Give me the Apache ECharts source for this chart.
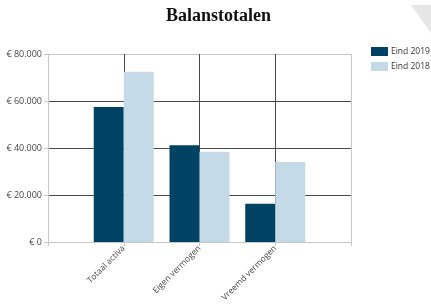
<!DOCTYPE html>
<html>
<head>
<meta charset="utf-8">
<script src="https://cdn.jsdelivr.net/npm/echarts@6/dist/echarts.min.js"></script>
<style>
  html, body { margin: 0; padding: 0; background: #fff; }
  #chart { width: 431px; height: 305px; }
</style>
</head>
<body>
<div id="chart"></div>
<script>
// empty slots at both ends so the bar pairs sit on the inner grid lines
const categories = ["", "Totaal activa", "Eigen vermogen", "Vreemd vermogen", ""];
const eind2019 = ["-", 57500, 41200, 16300, "-"];
const eind2018 = ["-", 72400, 38400, 34000, "-"];
const yTicks = [0, 20000, 40000, 60000, 80000];

const borderGray = "#c8c8c8";
const gridDark = "#4a4a4a";
const lineColors = [borderGray, gridDark, gridDark, gridDark, borderGray];

function euro(v) {
  if (v === 0) return "€ 0";
  return "€ " + String(v).replace(/\B(?=(\d{3})+(?!\d))/g, ".");
}

const myChart = echarts.init(document.getElementById("chart"));
const option = {
  animation: false,
  title: {
    text: "Balanstotalen",
    left: 166,
    top: 7,
    padding: 0,
    textStyle: {
      fontFamily: "Liberation Serif",
      fontWeight: "bold",
      fontSize: 18,
      color: "#111",
    },
  },
  legend: {
    orient: "vertical",
    left: 371,
    top: 47,
    padding: 0,
    icon: "rect",
    itemWidth: 17,
    itemHeight: 9,
    itemGap: 6,
    textStyle: {
      fontFamily: "Open Sans",
      fontSize: 8.5,
      color: "#333",
      padding: [0, 0, 0, -2],
      overflow: "none",
    },
    data: ["Eind 2019", "Eind 2018"],
  },
  grid: {
    left: 48,
    top: 54,
    width: 303,
    height: 188,
    show: false,
  },
  xAxis: {
    type: "category",
    data: categories,
    boundaryGap: false,
    axisLine: { lineStyle: { color: borderGray } },
    axisTick: { show: true, length: 4, lineStyle: { color: borderGray } },
    axisLabel: {
      rotate: 45,
      fontFamily: "Open Sans",
      fontSize: 8.5,
      color: "#444",
      margin: 5,
      interval: 0,
    },
    splitLine: { show: true, lineStyle: { color: lineColors, width: 1 } },
  },
  yAxis: {
    type: "value",
    min: yTicks[0],
    max: yTicks[yTicks.length - 1],
    interval: 20000,
    axisLine: { show: true, lineStyle: { color: borderGray } },
    axisTick: { show: true, length: 4, lineStyle: { color: borderGray } },
    axisLabel: {
      formatter: euro,
      fontFamily: "Open Sans",
      fontSize: 9,
      color: "#444",
      margin: 6,
    },
    splitLine: { show: true, lineStyle: { color: lineColors, width: 1 } },
  },
  series: [
    {
      name: "Eind 2019",
      type: "bar",
      data: eind2019,
      barWidth: 30,
      barGap: "0%",
      itemStyle: { color: "#004263" },
    },
    {
      name: "Eind 2018",
      type: "bar",
      data: eind2018,
      barWidth: 30,
      itemStyle: { color: "#c4dae7" },
    },
  ],
  graphic: [
    {
      type: "polygon",
      shape: { points: [[411, 5], [431, 5], [431, 33]] },
      style: { fill: "#e6e6e6" },
    },
  ],
};
myChart.setOption(option);
window.addEventListener("resize", () => {
  myChart.resize();
});
</script>
</body>
</html>
